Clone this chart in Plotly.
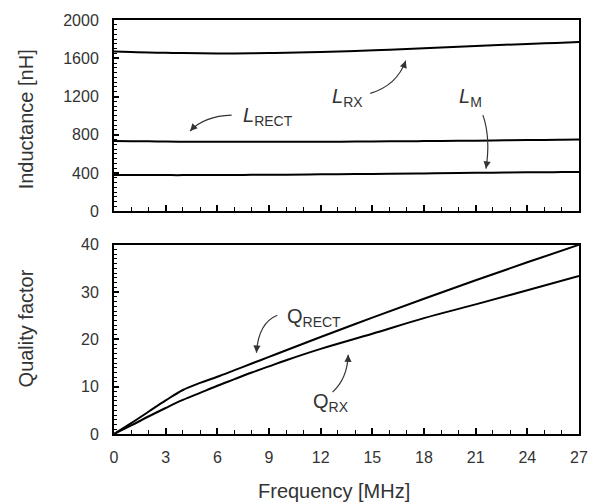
import plotly.graph_objects as go

freq = [0, 1, 2, 3, 4, 5, 6, 7, 8, 9, 10, 12, 14, 16, 18, 20, 22, 24, 25, 26, 27]
L_RX = [1670, 1665, 1660, 1657, 1654, 1652, 1651, 1651, 1652, 1654, 1657, 1665, 1677, 1690, 1705, 1720, 1735, 1750, 1756, 1763, 1770]
L_RECT = [735, 733, 731, 729, 728, 727, 726, 726, 726, 726, 726, 727, 729, 731, 734, 737, 740, 744, 746, 748, 750]
L_M = [378, 378, 378, 378, 378, 379, 379, 380, 381, 382, 383, 386, 389, 392, 396, 400, 403, 407, 408, 410, 411]

qfreq = [0, 1, 2, 3, 4, 5, 6, 7, 8, 9, 10, 12, 15, 18, 21, 24, 27]
Q_RECT = [0, 2.3, 4.7, 7.1, 9.3, 10.8, 12.1, 13.5, 14.9, 16.3, 17.7, 20.5, 24.6, 28.6, 32.5, 36.3, 40]
Q_RX = [0, 1.8, 3.7, 5.5, 7.2, 8.7, 10.2, 11.6, 13.0, 14.3, 15.6, 18.0, 21.2, 24.5, 27.4, 30.4, 33.4]

x_ticks = [0, 3, 6, 9, 12, 15, 18, 21, 24, 27]
y1_ticks = [0, 400, 800, 1200, 1600, 2000]
y2_ticks = [0, 10, 20, 30, 40]

FONT = "Liberation Sans, Arial, sans-serif"
TXT = "#333333"

fig = go.Figure()
line = dict(color="black", width=2)
for ys in (L_RX, L_RECT, L_M):
    fig.add_trace(go.Scatter(x=freq, y=ys, mode="lines", line=dict(line, shape="spline"),
                             xaxis="x", yaxis="y", showlegend=False, hoverinfo="skip"))
for ys in (Q_RECT, Q_RX):
    fig.add_trace(go.Scatter(x=qfreq, y=ys, mode="lines", line=dict(line, shape="spline"),
                             xaxis="x2", yaxis="y2", showlegend=False, hoverinfo="skip"))

common_x = dict(range=[0, 27], tickvals=x_ticks, ticks="inside", ticklen=6, tickwidth=1.5,
                tickcolor="black", showline=True, linecolor="black", linewidth=2, mirror=True,
                showgrid=False, zeroline=False,
                minor=dict(ticks="inside", dtick=1, ticklen=4, tickcolor="black", tickwidth=1.2))
common_y = dict(ticks="inside", ticklen=5, tickwidth=1.5, tickcolor="black", showline=True,
                linecolor="black", linewidth=2, mirror=True, showgrid=False, zeroline=False,
                tickfont=dict(family=FONT, size=16, color=TXT), ticklabelstandoff=10)

fig.update_layout(
    width=600, height=502,
    margin=dict(l=114, r=16, t=16, b=68),
    paper_bgcolor="white", plot_bgcolor="white",
    xaxis=dict(common_x, domain=[0, 1], anchor="y", showticklabels=False),
    yaxis=dict(common_y, domain=[0.538, 1], range=[0, 2000], tickvals=y1_ticks,
               minor=dict(ticks="inside", dtick=50, ticklen=3, tickcolor="black", tickwidth=1)),
    xaxis2=dict(common_x, domain=[0, 1], anchor="y2",
                tickfont=dict(family=FONT, size=16, color=TXT), ticklabelstandoff=8),
    yaxis2=dict(common_y, domain=[0, 0.457], range=[0, 40], tickvals=y2_ticks,
                minor=dict(ticks="inside", dtick=1, ticklen=3, tickcolor="black", tickwidth=1)),
)

# axis titles
fig.add_annotation(xref="paper", yref="paper", x=0, y=0.76, xshift=-88, text="Inductance [nH]",
                   textangle=-90, showarrow=False, xanchor="center", yanchor="middle",
                   font=dict(family=FONT, size=20, color=TXT))
fig.add_annotation(xref="paper", yref="paper", x=0, y=0.255, xshift=-88, text="Quality factor",
                   textangle=-90, showarrow=False, xanchor="center", yanchor="middle",
                   font=dict(family=FONT, size=20, color=TXT))
fig.add_annotation(xref="paper", yref="paper", x=0.474, y=0, yshift=-57, text="Frequency [MHz]",
                   showarrow=False, xanchor="center", yanchor="middle",
                   font=dict(family=FONT, size=20, color=TXT))

# labels
labels = [
    ("x", "y", 8.96, 995, "<i>L</i><sub>RECT</sub>"),
    ("x", "y", 13.56, 1192, "<i>L</i><sub>RX</sub>"),
    ("x", "y", 20.7, 1192, "<i>L</i><sub>M</sub>"),
    ("x2", "y2", 11.6, 24.7, "Q<sub>RECT</sub>"),
    ("x2", "y2", 12.6, 6.7, "Q<sub>RX</sub>"),
]
for xr, yr, x, y, t in labels:
    fig.add_annotation(xref=xr, yref=yr, x=x, y=y, text=t, showarrow=False,
                       font=dict(family=FONT, size=20, color=TXT))

# curved arrows: (xref, yref, start, control, tip)
arrows = [
    ("x", "y", (6.83, 1005), (5.23, 995), (4.42, 839)),
    ("x", "y", (14.88, 1233), (16.43, 1316), (16.94, 1575)),
    ("x", "y", (21.42, 1005), (21.88, 767), (21.6, 446)),
    ("x2", "y2", (9.48, 25.1), (8.39, 23.5), (8.27, 17.2)),
    ("x2", "y2", (12.69, 8.86), (13.55, 11.7), (13.6, 16.75)),
]
for xr, yr, s, c, t in arrows:
    fig.add_shape(type="path", xref=xr, yref=yr,
                  path=f"M {s[0]},{s[1]} Q {c[0]},{c[1]} {t[0]},{t[1]}",
                  line=dict(color="#333333", width=1.2))
    bx = t[0] + 0.25 * (c[0] - t[0])
    by = t[1] + 0.25 * (c[1] - t[1])
    fig.add_annotation(xref=xr, yref=yr, x=t[0], y=t[1], axref=xr, ayref=yr, ax=bx, ay=by,
                       text="", showarrow=True, arrowhead=2, arrowsize=1.2, arrowwidth=1.2,
                       arrowcolor="#333333")

fig.write_html("out.html")
